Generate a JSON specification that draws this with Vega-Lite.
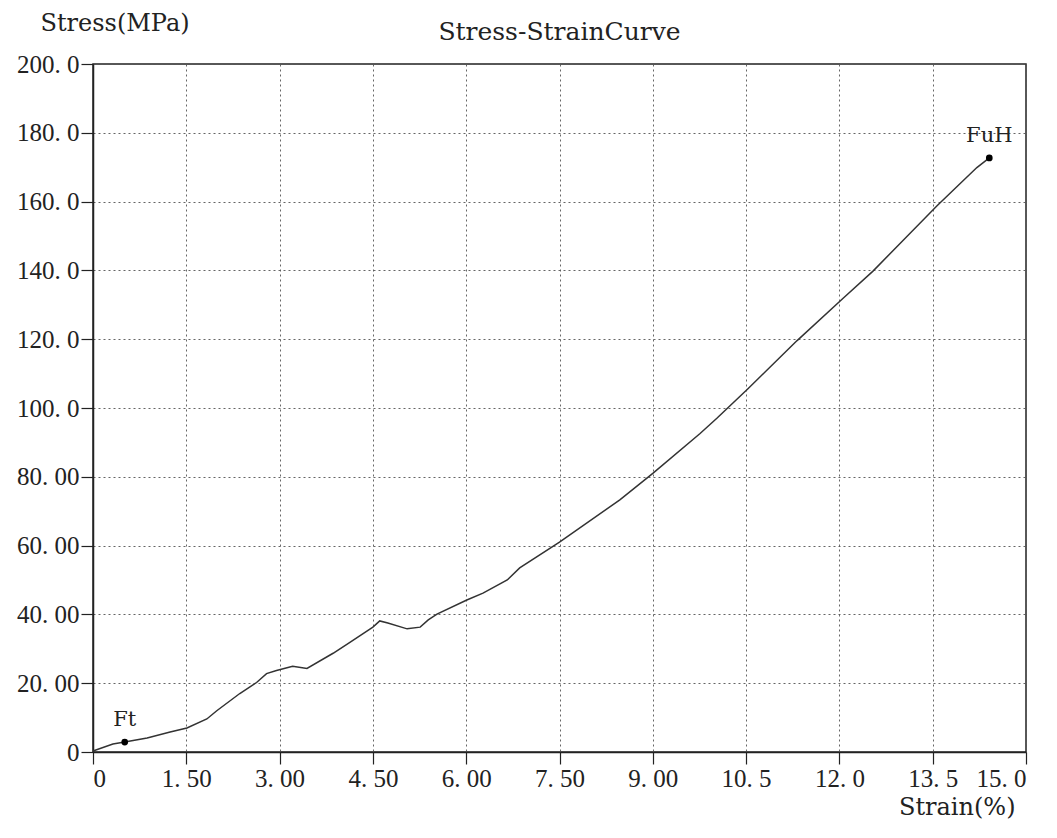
{
  "$schema": "https://vega.github.io/schema/vega-lite/v6.json",
  "width": 933,
  "height": 688,
  "autosize": {"type": "none"},
  "padding": {"left": 93, "top": 64, "right": 31, "bottom": 86},
  "background": "white",
  "title": {"text": "Stress-StrainCurve", "font": "DejaVu Serif", "fontSize": 25, "fontWeight": "normal", "color": "#222", "anchor": "middle", "frame": "group", "offset": 0, "dy": 34},
  "config": {
    "view": {"stroke": "#222", "strokeWidth": 1.5},
    "axis": {"labelFont": "Liberation Serif", "labelFontSize": 25, "labelColor": "#222", "titleFont": "DejaVu Serif", "titleFontSize": 24, "titleFontWeight": "normal", "titleColor": "#222", "gridColor": "#555", "gridDash": [2, 3], "gridWidth": 1, "gridOpacity": 0.9, "domainColor": "#222", "domainWidth": 1.5, "tickColor": "#222", "tickSize": 12, "tickWidth": 1.2}
  },
  "datasets": {
    "curve": [
      {"strain": 0, "stress": 0.3},
      {"strain": 0.32, "stress": 2.3},
      {"strain": 0.51, "stress": 2.9},
      {"strain": 0.87, "stress": 4.1},
      {"strain": 1.24, "stress": 5.8},
      {"strain": 1.51, "stress": 7.0},
      {"strain": 1.83, "stress": 9.6},
      {"strain": 1.99, "stress": 12.0},
      {"strain": 2.36, "stress": 17.0},
      {"strain": 2.63, "stress": 20.2},
      {"strain": 2.79, "stress": 22.8},
      {"strain": 2.95, "stress": 23.7},
      {"strain": 3.21, "stress": 24.9},
      {"strain": 3.44, "stress": 24.3},
      {"strain": 3.86, "stress": 28.7},
      {"strain": 4.13, "stress": 31.9},
      {"strain": 4.5, "stress": 36.3},
      {"strain": 4.61, "stress": 38.1},
      {"strain": 4.74, "stress": 37.5},
      {"strain": 5.05, "stress": 35.8},
      {"strain": 5.26, "stress": 36.3},
      {"strain": 5.39, "stress": 38.4},
      {"strain": 5.53, "stress": 40.1},
      {"strain": 6.01, "stress": 44.2},
      {"strain": 6.27, "stress": 46.2},
      {"strain": 6.66, "stress": 50.0},
      {"strain": 6.86, "stress": 53.5},
      {"strain": 7.5, "stress": 61.0},
      {"strain": 8.47, "stress": 73.3},
      {"strain": 9.0, "stress": 81.0},
      {"strain": 9.76, "stress": 92.6},
      {"strain": 10.03, "stress": 97.0},
      {"strain": 10.53, "stress": 105.6},
      {"strain": 11.32, "stress": 119.6},
      {"strain": 12.06, "stress": 131.9},
      {"strain": 12.54, "stress": 139.8},
      {"strain": 13.05, "stress": 149.2},
      {"strain": 13.57, "stress": 158.8},
      {"strain": 14.21, "stress": 169.9},
      {"strain": 14.41, "stress": 172.7}
    ],
    "marks": [
      {"strain": 0.51, "stress": 2.9, "label": "Ft"},
      {"strain": 14.41, "stress": 172.7, "label": "FuH"}
    ]
  },
  "layer": [
    {
      "data": {"name": "curve"},
      "mark": {"type": "line", "color": "#333", "strokeWidth": 1.5},
      "encoding": {
        "x": {"field": "strain", "type": "quantitative", "scale": {"domain": [0, 15], "nice": false, "zero": false},
          "axis": {"values": [0, 1.5, 3, 4.5, 6, 7.5, 9, 10.5, 12, 13.5, 15], "grid": true, "labelPadding": 2,
            "labelExpr": "datum.value == 0 ? '0' : replace(format(datum.value, datum.value >= 10 ? '.1f' : '.2f'), '.', '. ')",
            "title": "Strain(%)", "titleAnchor": "end", "titleAlign": "right", "titleX": 922, "titleY": 62, "titleBaseline": "alphabetic"}},
        "y": {"field": "stress", "type": "quantitative", "scale": {"domain": [0, 200], "nice": false},
          "axis": {"values": [0, 20, 40, 60, 80, 100, 120, 140, 160, 180, 200], "grid": true, "labelPadding": 2,
            "labelExpr": "datum.value == 0 ? '0' : replace(format(datum.value, datum.value >= 100 ? '.1f' : '.2f'), '.', '. ')",
            "title": "Stress(MPa)", "titleAngle": 0, "titleAlign": "left", "titleX": -53, "titleY": -34, "titleBaseline": "alphabetic"}}
      }
    },
    {
      "data": {"name": "marks"},
      "mark": {"type": "point", "filled": true, "color": "#000", "size": 45, "opacity": 1},
      "encoding": {
        "x": {"field": "strain", "type": "quantitative"},
        "y": {"field": "stress", "type": "quantitative"}
      }
    },
    {
      "data": {"name": "marks"},
      "mark": {"type": "text", "font": "DejaVu Serif", "fontSize": 21, "color": "#222", "dy": -16, "baseline": "alphabetic", "align": "center"},
      "encoding": {
        "x": {"field": "strain", "type": "quantitative"},
        "y": {"field": "stress", "type": "quantitative"},
        "text": {"field": "label"}
      }
    }
  ]
}
